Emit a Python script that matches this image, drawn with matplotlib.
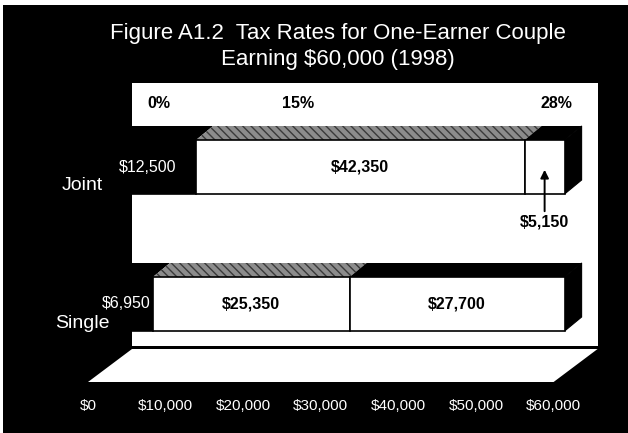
import matplotlib
matplotlib.use("Agg")
import matplotlib.pyplot as plt
from matplotlib.patches import Polygon, Rectangle

# ---- data -------------------------------------------------------------
categories = ["Joint", "Single"]
bracket_0pct = [12500, 6950]     # income taxed at 0%
bracket_15pct = [42350, 25350]   # income taxed at 15%
bracket_28pct = [5150, 27700]    # income taxed at 28%
rate_labels = ["0%", "15%", "28%"]
tick_values = [0, 10000, 20000, 30000, 40000, 50000, 60000]
tick_labels = ["$0", "$10,000", "$20,000", "$30,000", "$40,000", "$50,000", "$60,000"]
title_lines = ["Figure A1.2  Tax Rates for One-Earner Couple",
               "Earning $60,000 (1998)"]

# ---- layout -----------------------------------------------------------
W, H = 628, 433
PX_PER_K = 7.76                     # pixels per $1,000 on the bar plane
S = 1000.0 / PX_PER_K               # dollars per pixel
ZERO_PX = 99                        # where $0 sits on the bar plane
XMAX = tick_values[-1]

BAR_DX, BAR_DY = 17 * S, -14        # bar depth (oblique projection)
BACK_DX = 33 * S                    # back wall offset
FRONT_DX = -11 * S                  # floor front edge offset
WALL_TOP, WALL_BOTTOM = 83, 346
FLOOR_BACK, FLOOR_FRONT = 349, 382
BAR_CENTERS = [167, 304]
BAR_HEIGHT = 54
RATE_LABEL_X = [7700, 25600, 58900]

SANS = ["Liberation Sans", "DejaVu Sans"]

fig = plt.figure(figsize=(W / 100, H / 100), dpi=100, facecolor="black")
ax = fig.add_axes([0, 0, 1, 1])
ax.set_facecolor("black")
ax.set_xlim(-ZERO_PX * S, (W - ZERO_PX) * S)
ax.set_ylim(H, 0)
ax.axis("off")

# paper margin along the top and left edges
fig.patches.append(Rectangle((0, 1 - 5 / H), 1, 5 / H, transform=fig.transFigure,
                             facecolor="white", edgecolor="none", zorder=0))
fig.patches.append(Rectangle((0, 0), 3 / W, 1, transform=fig.transFigure,
                             facecolor="white", edgecolor="none", zorder=0))

# back wall and floor
ax.add_patch(Rectangle((BACK_DX, WALL_TOP), XMAX, WALL_BOTTOM - WALL_TOP,
                       facecolor="white", edgecolor="none", zorder=1))
ax.add_patch(Polygon([(FRONT_DX, FLOOR_FRONT), (BACK_DX, FLOOR_BACK),
                      (XMAX + BACK_DX, FLOOR_BACK), (XMAX + FRONT_DX, FLOOR_FRONT)],
                     closed=True, facecolor="white", edgecolor="none", zorder=1))

# rate labels along the top of the wall
for x, lab in zip(RATE_LABEL_X, rate_labels):
    ax.text(x, 103, lab, ha="center", va="center", fontsize=11.5,
            fontweight="bold", color="black", family=SANS, zorder=5)

segments = [bracket_0pct, bracket_15pct, bracket_28pct]
front_colors = ["black", "white", "white"]
top_styles = [dict(facecolor="black", edgecolor="black", hatch=None),
              dict(facecolor="#8c8c8c", edgecolor="#3a3a3a", hatch="\\\\\\\\"),
              dict(facecolor="black", edgecolor="black", hatch=None)]

for i, (cat, yc) in enumerate(zip(categories, BAR_CENTERS)):
    top = yc - BAR_HEIGHT / 2
    bottom = yc + BAR_HEIGHT / 2
    left = 0
    for k, seg in enumerate(segments):
        v = seg[i]
        right = left + v
        # top face
        st = top_styles[k]
        ax.add_patch(Polygon([(left, top), (left + BAR_DX, top + BAR_DY),
                              (right + BAR_DX, top + BAR_DY), (right, top)],
                             closed=True, facecolor=st["facecolor"],
                             edgecolor=st["edgecolor"], hatch=st["hatch"],
                             linewidth=0, zorder=2))
        # front face
        ax.barh(yc, v, left=left, height=BAR_HEIGHT, color=front_colors[k],
                edgecolor="black", linewidth=1.2, zorder=3)
        cx = left + v / 2
        if k == 0:
            ax.text(cx, yc, f"${v:,}", ha="center", va="center", fontsize=11.5,
                    color="white", family=SANS, zorder=6)
        elif k == 2 and v < 10000:
            ax.text(cx, yc + 55, f"${v:,}", ha="center", va="center",
                    fontsize=11.5, fontweight="bold", color="black",
                    family=SANS, zorder=6)
            ax.annotate("", xy=(cx, yc), xytext=(cx, yc + 47),
                        arrowprops=dict(arrowstyle="-|>", color="black",
                                        lw=1.4, mutation_scale=12),
                        zorder=6)
        else:
            ax.text(cx, yc, f"${v:,}", ha="center", va="center", fontsize=11.5,
                    fontweight="bold", color="black", family=SANS, zorder=6)
        left = right
    # right side face
    ax.add_patch(Polygon([(left, top), (left + BAR_DX, top + BAR_DY),
                          (left + BAR_DX, bottom + BAR_DY), (left, bottom)],
                         closed=True, facecolor="black", edgecolor="black",
                         linewidth=0.8, zorder=2))
    # category label
    ax.text(82 * S - ZERO_PX * S, yc + 19, cat, ha="center", va="center",
            fontsize=14, color="white", family=SANS, zorder=6)

# value axis labels along the floor's front edge
for v, lab in zip(tick_values, tick_labels):
    ax.text(v + FRONT_DX, 406, lab, ha="center", va="center", fontsize=11,
            color="white", family=SANS, zorder=6)

# title
fig.text(338 / W, 1 - 34 / H, title_lines[0], ha="center", va="center",
         fontsize=16, color="white", family=SANS)
fig.text(338 / W, 1 - 60 / H, title_lines[1], ha="center", va="center",
         fontsize=16, color="white", family=SANS)

fig.savefig("out.png", dpi=100, facecolor="black")
